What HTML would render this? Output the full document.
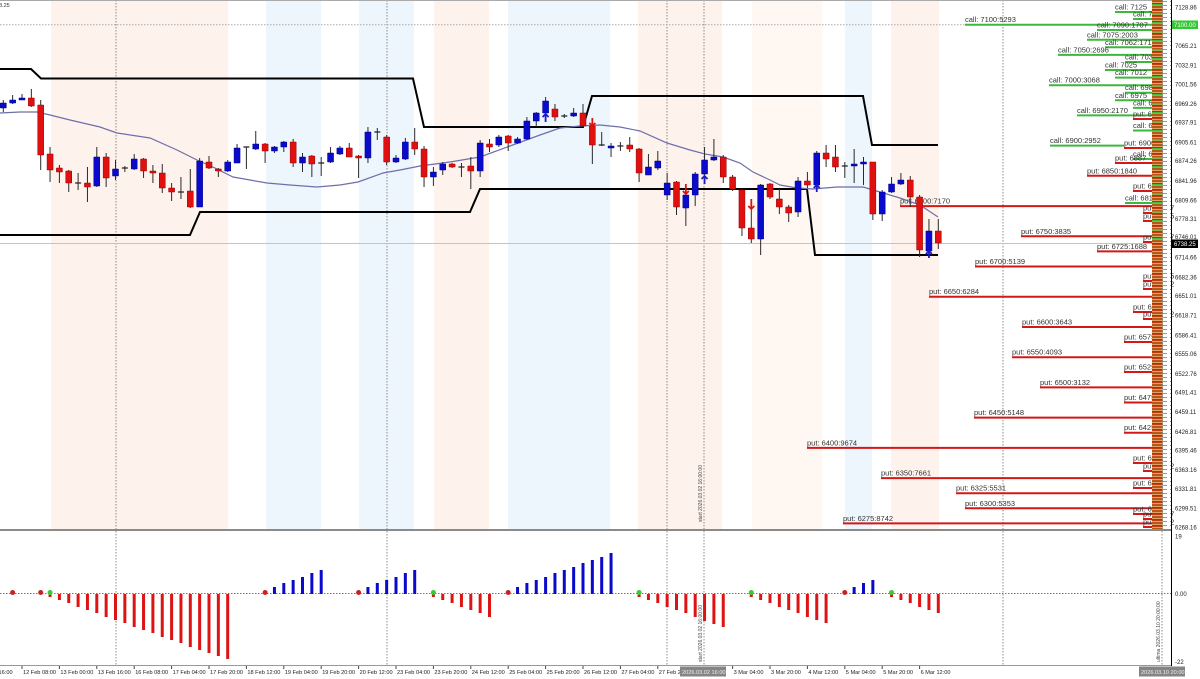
<!DOCTYPE html>
<html><head><meta charset="utf-8"><style>
html,body{margin:0;padding:0;background:#fff;}
svg{display:block;}
text{font-family:"Liberation Sans",Arial,sans-serif;}
</style></head><body>
<svg width="1200" height="679" viewBox="0 0 1200 679" xmlns="http://www.w3.org/2000/svg">
<defs>
<pattern id="hp" width="11" height="6" patternUnits="userSpaceOnUse">
<rect width="11" height="6" fill="#b45a12"/>
<rect y="2" width="11" height="1" fill="#dea070"/>
<rect y="3" width="11" height="1.5" fill="#d02010"/>
<rect y="5" width="11" height="1" fill="#dea070"/>
</pattern>
<pattern id="gp" width="11" height="9" patternUnits="userSpaceOnUse">
<rect y="4" width="11" height="1.5" fill="#44bb33"/>
</pattern>
<pattern id="dp" width="7" height="4" patternUnits="userSpaceOnUse">
<rect x="1" y="1" width="4" height="1" fill="#9a9a9a"/>
</pattern>
</defs>
<rect width="1200" height="679" fill="#fff"/>
<!-- bands -->
<g fill="#fdf3ec">
<rect x="51" y="0" width="177" height="529"/>
<rect x="434" y="0" width="55" height="529"/>
<rect x="638" y="0" width="84" height="529"/>
<rect x="752" y="0" width="70" height="529" fill="#fef7f2"/>
<rect x="891" y="0" width="48" height="529"/>
</g>
<g fill="#edf5fd">
<rect x="266" y="0" width="55" height="529"/>
<rect x="359" y="0" width="55" height="529"/>
<rect x="508" y="0" width="102" height="529"/>
<rect x="845" y="0" width="27" height="529"/>
</g>
<!-- grid -->
<g stroke="#8a8a8a" stroke-width="1" stroke-dasharray="1.5 1.5">
<line x1="116" y1="0" x2="116" y2="665"/>
<line x1="387" y1="0" x2="387" y2="665"/>
<line x1="667" y1="0" x2="667" y2="665"/>
<line x1="704" y1="0" x2="704" y2="665"/>
<line x1="1003" y1="0" x2="1003" y2="665"/>
<line x1="1162" y1="0" x2="1162" y2="665"/>
<line x1="0" y1="24.7" x2="1152" y2="24.7" stroke="#aaa"/>
<line x1="0" y1="593.5" x2="1171" y2="593.5" stroke="#777"/>
</g>
<line x1="0" y1="243.5" x2="1152" y2="243.5" stroke="#c4c4c4" stroke-width="1"/>
<line x1="0" y1="0.5" x2="1171" y2="0.5" stroke="#aaa"/>
<text x="-1" y="7" font-size="5.5" fill="#333">8.25</text>
<!-- vertical texts -->
<text transform="translate(702,522) rotate(-90)" font-size="5" fill="#444">start 2026.03.02 16:00:00</text>
<text transform="translate(702,662) rotate(-90)" font-size="5" fill="#444">start 2026.03.02 16:00:00</text>
<text transform="translate(1160,662) rotate(-90)" font-size="5" fill="#444">ultima 2026.03.10 20:00:00</text>

<!-- option level lines -->
<g stroke="#3cb83c" stroke-width="2">
<line x1="965" y1="24.7" x2="1152" y2="24.7"/>
<line x1="1115" y1="12" x2="1152" y2="12"/>
<line x1="1133" y1="19" x2="1152" y2="19"/>
<line x1="1097" y1="30" x2="1152" y2="30"/>
<line x1="1087" y1="39.8" x2="1152" y2="39.8"/>
<line x1="1105" y1="47.3" x2="1152" y2="47.3"/>
<line x1="1058" y1="54.9" x2="1152" y2="54.9"/>
<line x1="1125" y1="62" x2="1152" y2="62"/>
<line x1="1105" y1="70" x2="1152" y2="70"/>
<line x1="1115" y1="77.6" x2="1152" y2="77.6"/>
<line x1="1049" y1="85.2" x2="1152" y2="85.2"/>
<line x1="1125" y1="92.7" x2="1152" y2="92.7"/>
<line x1="1115" y1="100.3" x2="1152" y2="100.3"/>
<line x1="1133" y1="107.9" x2="1152" y2="107.9"/>
<line x1="1077" y1="115.4" x2="1152" y2="115.4"/>
<line x1="1133" y1="130.5" x2="1152" y2="130.5"/>
<line x1="1050" y1="145.6" x2="1124" y2="145.6"/>
<line x1="1133" y1="159" x2="1152" y2="159"/>
<line x1="1125" y1="203" x2="1152" y2="203"/>
</g>
<g stroke="#d41818" stroke-width="2">
<line x1="1133" y1="119" x2="1152" y2="119"/>
<line x1="1124" y1="148" x2="1152" y2="148"/>
<line x1="1115" y1="163" x2="1152" y2="163"/>
<line x1="1087" y1="175.8" x2="1152" y2="175.8"/>
<line x1="1133" y1="191" x2="1152" y2="191"/>
<line x1="900" y1="206.1" x2="1152" y2="206.1"/>
<line x1="1143" y1="213" x2="1152" y2="213"/>
<line x1="1143" y1="221" x2="1152" y2="221"/>
<line x1="1021" y1="236.3" x2="1152" y2="236.3"/>
<line x1="1143" y1="242" x2="1152" y2="242"/>
<line x1="1097" y1="251.4" x2="1152" y2="251.4"/>
<line x1="975" y1="266.5" x2="1152" y2="266.5"/>
<line x1="1143" y1="281" x2="1152" y2="281"/>
<line x1="1143" y1="289" x2="1152" y2="289"/>
<line x1="929" y1="296.7" x2="1152" y2="296.7"/>
<line x1="1133" y1="312" x2="1152" y2="312"/>
<line x1="1143" y1="319" x2="1152" y2="319"/>
<line x1="1022" y1="327" x2="1152" y2="327"/>
<line x1="1124" y1="342" x2="1152" y2="342"/>
<line x1="1012" y1="357.2" x2="1152" y2="357.2"/>
<line x1="1124" y1="372" x2="1152" y2="372"/>
<line x1="1040" y1="387.4" x2="1152" y2="387.4"/>
<line x1="1124" y1="402.5" x2="1152" y2="402.5"/>
<line x1="974" y1="417.6" x2="1152" y2="417.6"/>
<line x1="1124" y1="432.7" x2="1152" y2="432.7"/>
<line x1="807" y1="447.9" x2="1152" y2="447.9"/>
<line x1="1133" y1="463" x2="1152" y2="463"/>
<line x1="1143" y1="471" x2="1152" y2="471"/>
<line x1="881" y1="478.1" x2="1152" y2="478.1"/>
<line x1="1133" y1="488" x2="1152" y2="488"/>
<line x1="956" y1="493.2" x2="1152" y2="493.2"/>
<line x1="965" y1="508.3" x2="1152" y2="508.3"/>
<line x1="1133" y1="514" x2="1152" y2="514"/>
<line x1="1143" y1="519" x2="1152" y2="519"/>
<line x1="843" y1="523.4" x2="1152" y2="523.4"/>
<line x1="1143" y1="527" x2="1152" y2="527"/>
</g>
<g font-size="7.5" fill="#333">
<text x="965" y="22.2">call: 7100:5293</text>
<text x="1115" y="9.5">call: 7125</text>
<text x="1133" y="16.5">call: 7112</text>
<text x="1097" y="27.5">call: 7090:1707</text>
<text x="1087" y="37.3">call: 7075:2003</text>
<text x="1105" y="44.8">call: 7062:1712</text>
<text x="1058" y="52.4">call: 7050:2696</text>
<text x="1125" y="59.5">call: 7037</text>
<text x="1105" y="67.5">call: 7025</text>
<text x="1115" y="75">call: 7012</text>
<text x="1049" y="82.7">call: 7000:3068</text>
<text x="1125" y="90.2">call: 6987</text>
<text x="1115" y="97.8">call: 6975</text>
<text x="1133" y="105.4">call: 6962</text>
<text x="1077" y="112.9">call: 6950:2170</text>
<text x="1133" y="116.5">put: 6950</text>
<text x="1133" y="128">call: 6925</text>
<text x="1050" y="143.1">call: 6900:2952</text>
<text x="1124" y="145.5">put: 6900</text>
<text x="1133" y="156.5">call: 6875</text>
<text x="1115" y="160.5">put: 6887</text>
<text x="1087" y="173.3">put: 6850:1840</text>
<text x="1133" y="188.5">put: 6825</text>
<text x="1125" y="200.5">call: 6812</text>
<text x="900" y="203.6">put: 6800:7170</text>
<text x="1143" y="210.5">put: 6787</text>
<text x="1143" y="218.5">put: 6775</text>
<text x="1021" y="233.8">put: 6750:3835</text>
<text x="1143" y="239.5">put: 6737</text>
<text x="1097" y="248.9">put: 6725:1688</text>
<text x="975" y="264">put: 6700:5139</text>
<text x="1143" y="278.5">put: 6675</text>
<text x="1143" y="286.5">put: 6662</text>
<text x="929" y="294.2">put: 6650:6284</text>
<text x="1133" y="309.5">put: 6625</text>
<text x="1143" y="316.5">put: 6612</text>
<text x="1022" y="324.5">put: 6600:3643</text>
<text x="1124" y="339.5">put: 6575</text>
<text x="1012" y="354.7">put: 6550:4093</text>
<text x="1124" y="369.5">put: 6525</text>
<text x="1040" y="384.9">put: 6500:3132</text>
<text x="1124" y="400">put: 6475</text>
<text x="974" y="415.1">put: 6450:5148</text>
<text x="1124" y="430.2">put: 6425</text>
<text x="807" y="445.4">put: 6400:9674</text>
<text x="1133" y="460.5">put: 6375</text>
<text x="1143" y="468.5">put: 6362</text>
<text x="881" y="475.6">put: 6350:7661</text>
<text x="1133" y="485.5">put: 6337</text>
<text x="956" y="490.7">put: 6325:5531</text>
<text x="965" y="505.8">put: 6300:5353</text>
<text x="1133" y="511.5">put: 6312</text>
<text x="1143" y="516.5">put: 6287</text>
<text x="843" y="520.9">put: 6275:8742</text>
<text x="1143" y="524.5">put: 6262</text>
</g>
<!-- histogram column -->
<rect x="1152" y="0" width="11" height="529" fill="url(#hp)"/>
<rect x="1152" y="0" width="11" height="240" fill="url(#gp)"/>
<rect x="1163" y="0" width="8" height="529" fill="#fff"/>
<rect x="1163" y="0" width="8" height="529" fill="url(#dp)"/>
<line x1="1162.5" y1="0" x2="1162.5" y2="529" stroke="#888" stroke-dasharray="1.5 1.5"/>

<!-- step lines -->
<polyline fill="none" stroke="#000" stroke-width="2" points="0,69 31,69 41,78.5 413,78.5 424,127 583,127 592,96 863,96 872,145 938,145"/>
<polyline fill="none" stroke="#000" stroke-width="2" points="0,235 190,235 200,212 470,212 480,189 807,189 815,255 938,255"/>
<!-- MA -->
<polyline fill="none" stroke="#6e6eaa" stroke-width="1.2" points="0,113 20,112 37,112 50,115 70,120 100,127 117,133 150,138 177,150 197,160 215,168 233,177 267,183 290,185 317,187 340,185 358,182 383,173 400,170 420,166 450,162 480,157 510,146 540,135 560,128 580,126 600,125 620,127 640,131 667,143 690,150 705,154 723,157 740,163 753,172 770,180 780,185 797,188 813,189 837,187 863,187 880,192 900,198 920,205 938,217"/>

<!-- candles -->
<path fill="none" stroke="#2a2a2a" stroke-width="1" d="M3.3 100V112 M12.65 95V104 M22 94V100 M31.35 89V107 M40.7 100V170 M50.05 147V182 M59.4 165V183 M68.75 170V192 M78.1 173V190 M87.45 167V202 M96.8 147V187 M106.15 153V187 M115.5 160V180 M124.85 166V172 M134.2 154V170 M143.55 158V178 M152.9 165V183 M162.25 164V193 M171.6 183V201 M180.95 177V199 M190.3 169V208 M199.65 158V207 M209 156V169 M218.35 168V177 M227.7 160V172 M237.05 144V163 M246.4 147V169 M255.75 131V150 M265.1 143V163 M274.45 146V153 M283.8 141V152 M293.15 139V167 M302.5 153V172 M311.85 155V177 M321.2 157V176 M330.55 147V163 M339.9 146V155 M349.25 143V157 M358.6 155V178 M367.95 127V163 M377.3 128V140 M386.65 135V165 M396 155V163 M405.35 138V160 M414.7 128V155 M424.05 146V187 M433.4 167V186 M442.75 162V175 M452.1 163V168 M461.45 163V177 M470.8 157V189 M480.15 140V177 M489.5 139V152 M498.85 135V147 M508.2 135V151 M517.55 137V144 M526.9 117V140 M536.25 112V127 M545.6 97V115 M554.95 104V121 M564.3 114V118 M573.65 108V117 M583 104V127 M592.35 125V164 M601.7 132V146 M611.05 143V157 M620.4 142V151 M629.75 137V152 M639.1 148V182 M648.45 154V175 M657.8 151V170 M667.15 173V200 M676.5 181V215 M685.85 188V226 M695.2 172V206 M704.55 147V175 M713.9 139V161 M723.25 155V183 M732.6 175V191 M741.95 189V236 M751.3 203V243 M760.65 184V255 M770 183V199 M779.35 189V214 M788.7 205V222 M798.05 177V217 M807.4 172V188 M816.75 151V192 M826.1 145V167 M835.45 145V172 M844.8 162V178 M854.15 149V183 M863.5 157V185 M872.85 162V220 M882.2 190V221 M891.55 177V193 M900.9 173V185 M910.25 176V207 M919.6 195V257 M928.95 219V255 M938.3 219V249"/>
<path fill="#0a0acc" stroke="#000088" stroke-width="0.5" d="M0.3 103h6V108h-6z M9.65 100h6V103h-6z M19 98h6V100h-6z M93.8 157h6V186h-6z M112.5 169h6V176h-6z M131.2 159h6V169h-6z M196.65 161h6V207h-6z M224.7 162h6V171h-6z M234.05 148h6V163h-6z M252.75 144h6V149h-6z M271.45 147h6V151h-6z M280.8 142h6V147h-6z M299.5 157h6V163h-6z M327.55 153h6V162h-6z M336.9 148h6V154h-6z M364.95 132h6V158h-6z M393 158h6V162h-6z M402.35 142h6V159h-6z M430.4 172h6V177h-6z M439.75 164h6V170h-6z M477.15 143h6V171h-6z M495.85 137h6V145h-6z M514.55 139h6V143h-6z M523.9 121h6V139h-6z M533.25 113h6V121h-6z M542.6 101h6V113h-6z M570.65 113h6V116h-6z M608.05 146h6V148h-6z M645.45 167h6V175h-6z M654.8 161h6V168h-6z M664.15 183h6V195h-6z M682.85 195h6V208h-6z M692.2 174h6V195h-6z M701.55 160h6V174h-6z M710.9 157h6V160h-6z M757.65 185h6V239h-6z M795.05 181h6V212h-6z M813.75 153h6V185h-6z M851.15 164h6V166h-6z M860.5 162h6V164h-6z M879.2 192h6V214h-6z M888.55 184h6V192h-6z M897.9 180h6V184h-6z M925.95 231h6V251h-6z"/>
<path fill="#e01010" stroke="#990000" stroke-width="0.5" d="M28.35 98h6V106h-6z M37.7 105h6V155h-6z M47.05 154h6V170h-6z M56.4 168h6V172h-6z M65.75 171h6V183h-6z M84.45 183h6V187h-6z M103.15 157h6V178h-6z M140.55 159h6V171h-6z M149.9 171h6V173h-6z M159.25 173h6V188h-6z M168.6 188h6V192h-6z M187.3 191h6V207h-6z M206 162h6V168h-6z M215.35 169h6V171h-6z M262.1 144h6V151h-6z M290.15 142h6V163h-6z M308.85 156h6V164h-6z M346.25 148h6V157h-6z M355.6 156h6V158h-6z M383.65 137h6V162h-6z M411.7 142h6V149h-6z M421.05 149h6V177h-6z M449.1 164h6V167h-6z M467.8 166h6V171h-6z M486.5 144h6V147h-6z M505.2 136h6V143h-6z M551.95 109h6V117h-6z M580 113h6V126h-6z M589.35 126h6V145h-6z M626.75 145h6V149h-6z M636.1 149h6V173h-6z M673.5 182h6V207h-6z M720.25 157h6V177h-6z M729.6 177h6V189h-6z M738.95 190h6V228h-6z M748.3 228h6V239h-6z M767 184h6V197h-6z M776.35 199h6V207h-6z M785.7 207h6V213h-6z M804.4 181h6V185h-6z M823.1 153h6V159h-6z M832.45 157h6V167h-6z M869.85 162h6V214h-6z M907.25 180h6V197h-6z M916.6 197h6V250h-6z M935.3 231h6V243h-6z"/>
<path fill="none" stroke="#222" stroke-width="1.3" d="M75.1 183h6 M121.85 168h6 M177.95 192h6 M243.4 147h6 M318.2 163h6 M374.3 132h6 M458.45 167h6 M561.3 116h6 M598.7 145h6 M617.4 146h6 M841.8 166h6"/>
<!-- arrows -->
<path fill="none" stroke="#dd1111" stroke-width="1.8" d="M592.35 118V126 M589.35 123L592.35 126L595.35 123 M685.85 184V194 M682.85 191L685.85 194L688.85 191 M751.3 199V209 M748.3 206L751.3 209L754.3 206"/>
<path fill="none" stroke="#1a1acc" stroke-width="1.8" d="M545.6 114V122 M542.6 117L545.6 114L548.6 117 M704.55 176V184 M701.55 179L704.55 176L707.55 179 M816.75 185V192 M813.75 188L816.75 185L819.75 188 M928.95 251V258 M925.95 254L928.95 251L931.95 254"/>

<!-- separators -->
<rect x="0" y="529" width="1171" height="2" fill="#8a8a8a"/>
<line x1="0" y1="665.5" x2="1171" y2="665.5" stroke="#999" stroke-width="1"/>

<!-- indicator -->
<path fill="none" stroke="#dd1414" stroke-width="3" d="M50.05 594V597 M59.4 594V600 M68.75 594V603 M78.1 594V607 M87.45 594V610 M96.8 594V613 M106.15 594V617 M115.5 594V620 M124.85 594V623 M134.2 594V627 M143.55 594V630 M152.9 594V633 M162.25 594V637 M171.6 594V640 M180.95 594V643 M190.3 594V647 M199.65 594V650 M209 594V653 M218.35 594V656 M227.7 594V659 M433.4 594V597 M442.75 594V600 M452.1 594V603 M461.45 594V607 M470.8 594V610 M480.15 594V613 M489.5 594V617 M639.1 594V597 M648.45 594V600 M657.8 594V603 M667.15 594V607 M676.5 594V610 M685.85 594V613 M695.2 594V617 M704.55 594V621 M713.9 594V624 M723.25 594V627 M751.3 594V597 M760.65 594V600 M770 594V603 M779.35 594V607 M788.7 594V610 M798.05 594V613 M807.4 594V617 M816.75 594V620 M826.1 594V623 M891.55 594V597 M900.9 594V600 M910.25 594V603 M919.6 594V607 M928.95 594V610 M938.3 594V613"/>
<path fill="none" stroke="#0a0acc" stroke-width="3" d="M274.45 594V587 M283.8 594V583 M293.15 594V580 M302.5 594V577 M311.85 594V573 M321.2 594V570 M367.95 594V587 M377.3 594V583 M386.65 594V580 M396 594V577 M405.35 594V573 M414.7 594V570 M517.55 594V587 M526.9 594V583 M536.25 594V580 M545.6 594V577 M554.95 594V573 M564.3 594V570 M573.65 594V567 M583 594V563 M592.35 594V560 M601.7 594V557 M611.05 594V553 M854.15 594V587 M863.5 594V583 M872.85 594V580"/>
<g fill="#cc2020">
<circle cx="12.65" cy="592.5" r="2.5"/><circle cx="40.7" cy="592.5" r="2.5"/><circle cx="265.1" cy="592.5" r="2.5"/><circle cx="358.6" cy="592.5" r="2.5"/><circle cx="508.2" cy="592.5" r="2.5"/><circle cx="844.8" cy="592.5" r="2.5"/>
</g>
<g fill="#33cc33">
<circle cx="50.05" cy="592.5" r="2.5"/><circle cx="433.4" cy="592.5" r="2.5"/><circle cx="639.1" cy="592.5" r="2.5"/><circle cx="751.3" cy="592.5" r="2.5"/><circle cx="891.55" cy="592.5" r="2.5"/>
</g>

<!-- right axis -->
<line x1="1171.5" y1="0" x2="1171.5" y2="666" stroke="#000" stroke-width="1"/>
<g font-size="6" fill="#222">
<text x="1175" y="9.5">7128.86</text>
<text x="1175" y="47.8">7065.21</text>
<text x="1175" y="67.3">7032.91</text>
<text x="1175" y="86.3">7001.56</text>
<text x="1175" y="105.8">6969.26</text>
<text x="1175" y="124.7">6937.91</text>
<text x="1175" y="144.3">6905.61</text>
<text x="1175" y="163.2">6874.26</text>
<text x="1175" y="182.8">6841.96</text>
<text x="1175" y="202.3">6809.66</text>
<text x="1175" y="221.2">6778.31</text>
<text x="1175" y="239">6746.01</text>
<text x="1175" y="259.7">6714.66</text>
<text x="1175" y="279.3">6682.36</text>
<text x="1175" y="298.2">6651.01</text>
<text x="1175" y="317.7">6618.71</text>
<text x="1175" y="337.3">6586.41</text>
<text x="1175" y="356.2">6555.06</text>
<text x="1175" y="375.8">6522.76</text>
<text x="1175" y="394.7">6491.41</text>
<text x="1175" y="414.2">6459.11</text>
<text x="1175" y="433.8">6426.81</text>
<text x="1175" y="452.7">6395.46</text>
<text x="1175" y="472.2">6363.16</text>
<text x="1175" y="491.2">6331.81</text>
<text x="1175" y="510.7">6299.51</text>
<text x="1175" y="529.7">6268.16</text>
<text x="1175" y="538.5">19</text>
<text x="1175" y="596">0.00</text>
<text x="1175" y="664">-22</text>
</g>
<rect x="1172" y="20.5" width="26" height="8.5" fill="#33c833"/>
<text x="1174" y="27" font-size="6" fill="#fff">7100.00</text>
<rect x="1172" y="239.5" width="26" height="8.5" fill="#000"/>
<text x="1174" y="246" font-size="6" fill="#fff">6738.25</text>

<!-- x axis -->
<g stroke="#444" stroke-width="1">
<path d="M22 666V669 M59.4 666V669 M96.8 666V669 M134.2 666V669 M171.6 666V669 M209 666V669 M246.4 666V669 M283.8 666V669 M321.2 666V669 M358.6 666V669 M396 666V669 M433.4 666V669 M470.8 666V669 M508.2 666V669 M545.6 666V669 M583 666V669 M620.4 666V669 M657.8 666V669 M732.6 666V669 M770 666V669 M807.4 666V669 M844.8 666V669 M882.2 666V669 M919.6 666V669"/>
</g>
<g font-size="5.6" fill="#222">
<text x="-20" y="674">11 Feb 16:00</text>
<text x="23" y="674">12 Feb 08:00</text>
<text x="60.4" y="674">13 Feb 00:00</text>
<text x="97.8" y="674">13 Feb 16:00</text>
<text x="135.2" y="674">16 Feb 08:00</text>
<text x="172.6" y="674">17 Feb 04:00</text>
<text x="210" y="674">17 Feb 20:00</text>
<text x="247.4" y="674">18 Feb 12:00</text>
<text x="284.8" y="674">19 Feb 04:00</text>
<text x="322.2" y="674">19 Feb 20:00</text>
<text x="359.6" y="674">20 Feb 12:00</text>
<text x="397" y="674">23 Feb 04:00</text>
<text x="434.4" y="674">23 Feb 20:00</text>
<text x="471.8" y="674">24 Feb 12:00</text>
<text x="509.2" y="674">25 Feb 04:00</text>
<text x="546.6" y="674">25 Feb 20:00</text>
<text x="584" y="674">26 Feb 12:00</text>
<text x="621.4" y="674">27 Feb 04:00</text>
<text x="658.8" y="674">27 Feb 20:00</text>
<text x="733.6" y="674">3 Mar 04:00</text>
<text x="771" y="674">3 Mar 20:00</text>
<text x="808.4" y="674">4 Mar 12:00</text>
<text x="845.8" y="674">5 Mar 04:00</text>
<text x="883.2" y="674">5 Mar 20:00</text>
<text x="920.6" y="674">6 Mar 12:00</text>
</g>
<rect x="680" y="666.5" width="46" height="10" fill="#858585"/>
<text x="682" y="674" font-size="5.6" fill="#eee">2026.03.02 16:00</text>
<rect x="1139" y="666.5" width="46" height="10" fill="#858585"/>
<text x="1141" y="674" font-size="5.6" fill="#eee">2026.03.10 20:00</text>
</svg>
</body></html>
